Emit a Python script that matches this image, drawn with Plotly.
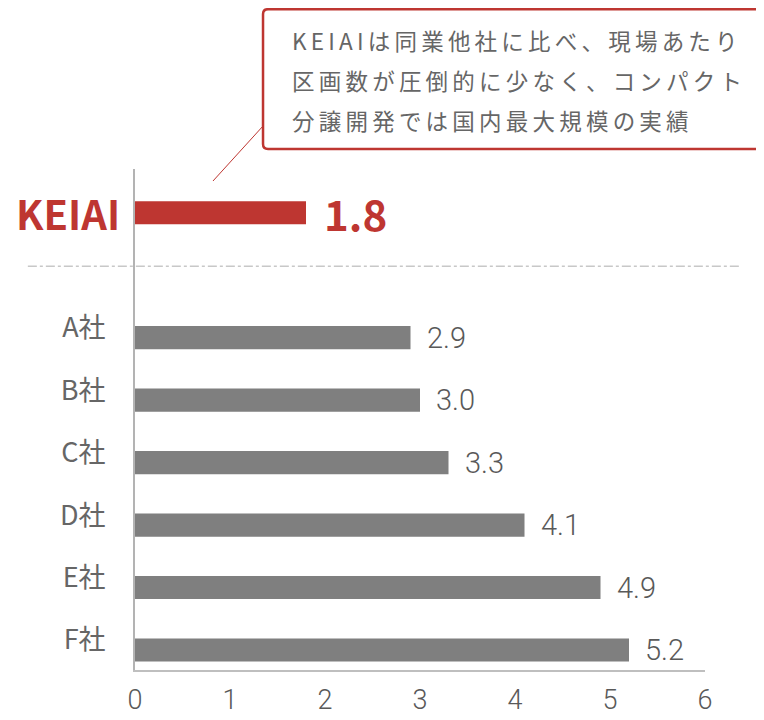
import plotly.graph_objects as go

# data
companies = ["F社", "E社", "D社", "C社", "B社", "A社", " ", "KEIAI"]
bar_names = ["KEIAI", "A社", "B社", "C社", "D社", "E社", "F社"]
bar_values = [1.8, 2.9, 3.0, 3.3, 4.1, 4.9, 5.2]
x_ticks = [0, 1, 2, 3, 4, 5, 6]
note_lines = [
    "KEIAIは同業他社に比べ、現場あたり",
    "区画数が圧倒的に少なく、コンパクト",
    "分譲開発では国内最大規模の実績",
]

RED = "#BE3631"
GRAY_BAR = "#7F7F7F"
TEXT = "#595959"
JP = "Noto Sans CJK JP, Noto Sans, sans-serif"
NUM = "Roboto, Noto Sans, sans-serif"

colors = [RED if n == "KEIAI" else GRAY_BAR for n in bar_names]

fig = go.Figure()
fig.add_trace(go.Bar(
    x=bar_values,
    y=bar_names,
    orientation="h",
    marker=dict(color=colors, line=dict(width=0)),
    width=0.37,
    hoverinfo="skip",
))

# value labels
for n, v in zip(bar_names, bar_values):
    if n == "KEIAI":
        fig.add_annotation(x=v, y=n, xref="x", yref="y", text=f"<b>{v:.1f}</b>",
                           showarrow=False, xanchor="left", xshift=16,
                           font=dict(family=JP, size=42, color=RED))
    else:
        fig.add_annotation(x=v, y=n, xref="x", yref="y", text=f"{v:.1f}",
                           showarrow=False, xanchor="left", xshift=14,
                           font=dict(family=NUM, size=29, color=TEXT, weight=300))

# red category label
fig.add_annotation(x=-0.023, y="KEIAI", xref="paper", yref="y", text="<b>KEIAI</b>",
                   showarrow=False, xanchor="right",
                   font=dict(family=JP, size=40, color=RED))

# separator
fig.add_shape(type="line", xref="paper", yref="paper", x0=-0.188, x1=1.061,
              y0=0.806, y1=0.806, line=dict(color="#C8C8C8", width=1.5, dash="dashdot"))

# callout box (rounded left corners, runs off the right edge) + connector
box = ("M 1.13 1.319 L 0.2334 1.319 Q 0.2246 1.319 0.2246 1.309 "
       "L 0.2246 1.050 Q 0.2246 1.040 0.2334 1.040 L 1.13 1.040 Z")
fig.add_shape(type="path", xref="paper", yref="paper", path=box,
              line=dict(color=RED, width=2.5), fillcolor="white")
fig.add_shape(type="line", xref="paper", yref="paper", x0=0.1368, y0=0.976,
              x1=0.2246, y1=1.0858, line=dict(color=RED, width=1))
for i, line in enumerate(note_lines):
    fig.add_annotation(x=0.2719, y=1.2575 - i * 0.0798, xref="paper", yref="paper",
                       text="\u200a\u200a\u200a".join(line), showarrow=False,
                       xanchor="left", yanchor="middle",
                       font=dict(family=JP, size=22.5, color="#666666"))

# page body adds an 8px offset, so size and margins are trimmed to compensate
fig.update_layout(
    width=756, height=712,
    margin=dict(l=127, r=59, t=161, b=50),
    paper_bgcolor="white", plot_bgcolor="white",
    showlegend=False,
    xaxis=dict(
        range=[0, 6], tickvals=x_ticks, showgrid=False, zeroline=False,
        showline=True, linecolor="#BFBFBF", linewidth=2, automargin=False,
        ticks="", ticklabelstandoff=5,
        tickfont=dict(family=NUM, size=27, color=TEXT, weight=300),
    ),
    yaxis=dict(
        type="category", categoryorder="array", categoryarray=companies,
        tickvals=companies,
        ticktext=["" if c in ("KEIAI", " ") else c for c in companies],
        range=[-0.32, 7.7], showgrid=False, zeroline=False,
        showline=True, linecolor="#B3B3B3", linewidth=2, automargin=False,
        ticks="", ticklabelstandoff=22, ticklabelshift=-10,
        tickfont=dict(family=JP, size=27, color="#666666"),
    ),
)

fig.write_html("out.html")
